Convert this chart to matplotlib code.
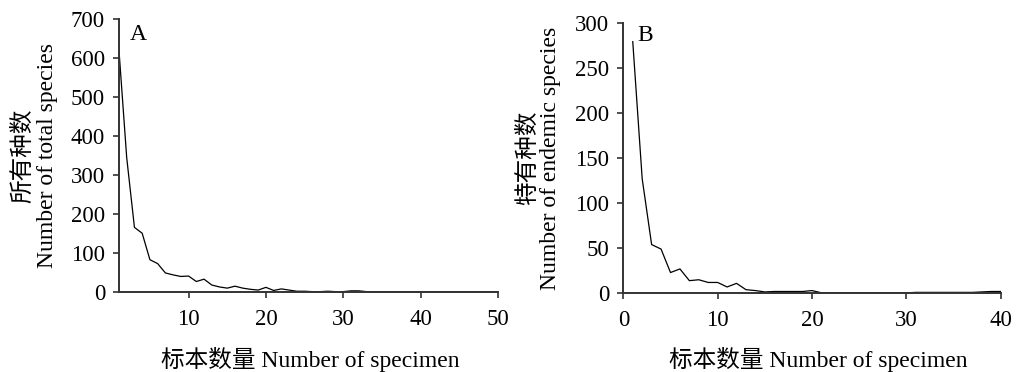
import numpy as np
import matplotlib
matplotlib.use("Agg")
import matplotlib.pyplot as plt

plt.rcParams['font.family'] = ['Liberation Serif', 'Noto Sans CJK SC']
plt.rcParams['font.size'] = 16

# Panel A: total species vs number of specimens (x = 1..50)
total_x = list(range(1, 51))
total_species = [621, 345, 166, 151, 83, 73, 49, 44, 40, 41,
                 27, 33, 18, 13, 10, 15, 10, 7, 5, 12,
                 4, 8, 5, 2, 2, 1, 1, 2, 1, 1,
                 3, 3, 1, 1, 1, 1, 1, 1, 1, 1,
                 1, 1, 1, 1, 1, 1, 1, 1, 1, 1]

# Panel B: endemic species vs number of specimens (x = 1..40)
endemic_x = list(range(1, 41))
endemic_species = [279, 127, 54, 49, 23, 27, 14, 15, 12, 12,
                   7, 11, 4, 3, 1.5, 2, 2, 2, 2, 3,
                   0.5, 0.5, 0.5, 0.5, 0.5, 0.5, 0.5, 0.5, 0.5, 0.5,
                   1, 1, 1, 1, 1, 1, 1, 1.5, 2, 2]

fig = plt.figure(figsize=(10.16, 3.72), dpi=100)
axA = fig.add_axes([0.1171, 0.215, 0.373, 0.7326])
axB = fig.add_axes([0.6135, 0.2116, 0.3715, 0.7274])

def style(ax):
    for side in ['top', 'right']:
        ax.spines[side].set_visible(False)
    for side in ['left', 'bottom']:
        ax.spines[side].set_linewidth(1.4)
        ax.spines[side].set_color('#333333')
    ax.tick_params(direction='out', length=4, width=1.2, color='#333333',
                   labelsize=16.5)
    ax.tick_params(axis='x', pad=8)
    ax.tick_params(axis='y', pad=6)

axA.plot(total_x, total_species, color='black', lw=0.9)
axA.set_xlim(1, 50)
axA.set_ylim(0, 700)
axA.set_xticks([10, 20, 30, 40, 50])
axA.set_yticks(range(0, 701, 100))
style(axA)
axA.set_ylabel('所有种数\nNumber of total species', fontsize=17, linespacing=1.12)
axA.yaxis.set_label_coords(-0.162, 0.5)
axA.set_xlabel('标本数量 Number of specimen', fontsize=17)
axA.xaxis.set_label_coords(0.504, -0.2)
axA.text(0.028, 0.985, 'A', transform=axA.transAxes, fontsize=17,
         ha='left', va='top')

axB.plot(endemic_x, endemic_species, color='black', lw=0.9)
axB.set_xlim(0, 40)
axB.set_ylim(0, 300)
axB.set_xticks([0, 10, 20, 30, 40])
axB.set_yticks(range(0, 301, 50))
style(axB)
axB.set_ylabel('特有种数\nNumber of endemic species', fontsize=17, linespacing=1.12)
axB.yaxis.set_label_coords(-0.164, 0.5)
axB.set_xlabel('标本数量 Number of specimen', fontsize=17)
axB.xaxis.set_label_coords(0.516, -0.197)
axB.text(0.037, 0.992, 'B', transform=axB.transAxes, fontsize=17,
         ha='left', va='top')

fig.savefig('out.png', dpi=100)
